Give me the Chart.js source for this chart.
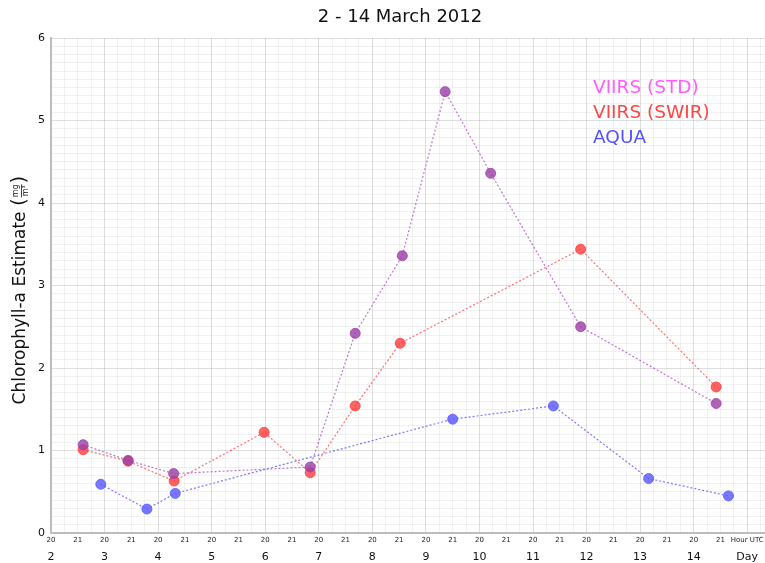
<!DOCTYPE html>
<html><head><meta charset="utf-8">
<script src="https://cdn.jsdelivr.net/npm/chart.js@4.4.1/dist/chart.umd.min.js"></script>
<style>html,body{margin:0;padding:0;overflow:hidden;background:#fff}canvas{display:block}</style>
</head><body><canvas id="c" width="780" height="563"></canvas>
<script>
const chartTitle = '2 - 14 March 2012';
const yTitle = 'Chlorophyll-a Estimate';
const seriesNames = ['VIIRS (STD)', 'VIIRS (SWIR)', 'AQUA'];
// x in day-of-March units (each day has a "20" and a "21" hour slot)
const stdX  = [2.60, 3.44, 4.29, 6.84, 7.68, 8.56, 9.36, 10.21, 11.89, 14.42];
const stdY  = [1.07, 0.88, 0.72, 0.80, 2.42, 3.36, 5.35, 4.36, 2.50, 1.57];
const swirX = [2.60, 3.44, 4.30, 5.98, 6.84, 7.68, 8.52, 11.89, 14.42];
const swirY = [1.01, 0.87, 0.63, 1.22, 0.73, 1.54, 2.30, 3.44, 1.77];
const aquaX = [2.93, 3.79, 4.32, 9.50, 11.38, 13.16, 14.65];
const aquaY = [0.59, 0.29, 0.48, 1.38, 1.54, 0.66, 0.45];
const days = [2, 3, 4, 5, 6, 7, 8, 9, 10, 11, 12, 13, 14];
const hourLabels = ['20', '21'];
const hourAxisName = 'Hour UTC';
const dayAxisName = 'Day';
const yTickLabels = ['0', '1', '2', '3', '4', '5', '6'];

const FONT = '"DejaVu Sans", sans-serif';
const pts = (xs, ys) => xs.map((x, i) => ({x: x, y: ys[i]}));

const lineColors  = ['rgba(170,75,190,0.75)', 'rgba(255,80,80,0.8)', 'rgba(90,90,255,0.8)'];
const pointColors = ['rgba(158,66,168,0.82)', 'rgba(255,60,60,0.8)', 'rgba(95,95,255,0.85)'];
const legendColors = ['#ff5cff', '#ff4545', '#5252ff'];

const xMin = days[0], xMax = days[days.length - 1] + 1.5;

const overlay = {
  id: 'overlay',
  afterDraw(chart) {
    const ctx = chart.ctx;
    ctx.save();
    // title
    ctx.fillStyle = '#111';
    ctx.font = '18px ' + FONT;
    ctx.textAlign = 'center';
    ctx.textBaseline = 'middle';
    ctx.fillText(chartTitle, 400, 17);
    // legend (text only)
    ctx.textAlign = 'left';
    ctx.font = '18.5px ' + FONT;
    seriesNames.forEach((n, i) => {
      ctx.fillStyle = legendColors[i];
      ctx.fillText(n, 593, 88 + i * 25);
    });
    // y title, rotated, with fraction
    ctx.translate(21, 290);
    ctx.rotate(-Math.PI / 2);
    ctx.fillStyle = '#111';
    ctx.font = '17px ' + FONT;
    const main = yTitle + ' ';
    const wMain = ctx.measureText(main).width;
    ctx.font = '20px ' + FONT;
    const wPar = ctx.measureText('(').width;
    ctx.font = '8px ' + FONT;
    const wFrac = Math.max(ctx.measureText('mg').width, ctx.measureText('m³').width) + 2;
    const total = wMain + wPar * 2 + wFrac;
    let x = -total / 2;
    ctx.textAlign = 'left';
    ctx.font = '17px ' + FONT;
    ctx.fillText(main, x, 0);
    x += wMain;
    ctx.font = '20px ' + FONT;
    ctx.fillText('(', x, -1);
    x += wPar;
    ctx.font = '8px ' + FONT;
    ctx.textAlign = 'center';
    ctx.fillText('mg', x + wFrac / 2, -5);
    ctx.fillText('m³', x + wFrac / 2, 5);
    ctx.strokeStyle = '#111';
    ctx.lineWidth = 0.8;
    ctx.beginPath();
    ctx.moveTo(x + 1, 0.5); ctx.lineTo(x + wFrac - 1, 0.5); ctx.stroke();
    x += wFrac;
    ctx.textAlign = 'left';
    ctx.font = '20px ' + FONT;
    ctx.fillText(')', x, -1);
    ctx.restore();
  }
};

const mkDs = (i, xs, ys) => ({
  label: seriesNames[i],
  data: pts(xs, ys),
  showLine: true,
  borderColor: lineColors[i],
  borderWidth: 1.2,
  borderDash: [2, 2],
  pointRadius: 5,
  pointHoverRadius: 5,
  pointBackgroundColor: pointColors[i],
  pointBorderColor: pointColors[i],
  pointBorderWidth: 1,
  tension: 0,
  order: i
});

new Chart(document.getElementById('c'), {
  type: 'scatter',
  data: {
    datasets: [mkDs(0, stdX, stdY), mkDs(1, swirX, swirY), mkDs(2, aquaX, aquaY)]
  },
  options: {
    responsive: false,
    animation: false,
    layout: {padding: {top: 38, left: 0, right: 0, bottom: 0}},
    plugins: {legend: {display: false}, tooltip: {enabled: false}, title: {display: false}},
    scales: {
      x: {
        type: 'linear', position: 'bottom', min: xMin, max: xMax,
        afterBuildTicks(s) {
          const t = [];
          for (let v = xMin; v <= xMax + 1e-9; v += 0.25) t.push({value: +v.toFixed(2)});
          s.ticks = t;
        },
        afterFit(s) { s.height = 14; },
        grid: {
          drawTicks: false,
          color: c => (c.tick && Math.abs(c.tick.value - Math.round(c.tick.value)) < 1e-6) ? 'rgba(0,0,0,0.13)' : 'rgba(0,0,0,0.05)',
          lineWidth: 1
        },
        border: {display: true, color: '#bdbdbd', width: 2},
        ticks: {
          autoSkip: false, maxRotation: 0, padding: 3,
          font: {family: FONT, size: 7}, color: '#222',
          callback: v => {
            const f = Math.round((v % 1) * 100) / 100;
            if (f === 0) return v <= days[days.length - 1] ? hourLabels[0] : (v === days[days.length - 1] + 1 ? hourAxisName : '');
            if (f === 0.5) return v <= days[days.length - 1] + 0.5 ? hourLabels[1] : '';
            return '';
          }
        }
      },
      x2: {
        type: 'linear', position: 'bottom', min: xMin, max: xMax,
        afterBuildTicks(s) {
          s.ticks = days.map(d => ({value: d})).concat([{value: days[days.length - 1] + 1}]);
        },
        afterFit(s) { s.height = 16; },
        grid: {display: false, drawTicks: false},
        border: {display: false},
        ticks: {
          autoSkip: false, maxRotation: 0, padding: 4,
          font: {family: FONT, size: 11}, color: '#111',
          callback: v => days.includes(v) ? String(v) : dayAxisName
        }
      },
      y: {
        type: 'linear', min: 0, max: 6,
        afterBuildTicks(s) {
          const t = [];
          for (let i = 0; i <= 60; i++) t.push({value: i / 10});
          s.ticks = t;
        },
        afterFit(s) { s.width = 51; },
        grid: {
          drawTicks: false,
          color: c => (c.tick && Math.abs(c.tick.value - Math.round(c.tick.value)) < 1e-6) ? 'rgba(0,0,0,0.13)' : 'rgba(0,0,0,0.05)'
        },
        border: {display: true, color: '#bdbdbd', width: 2},
        ticks: {
          autoSkip: false, padding: 6,
          font: {family: FONT, size: 11}, color: '#111',
          callback: v => Math.abs(v - Math.round(v)) < 1e-6 ? yTickLabels[Math.round(v)] : ''
        }
      }
    }
  },
  plugins: [overlay]
});
</script>
</body></html>
